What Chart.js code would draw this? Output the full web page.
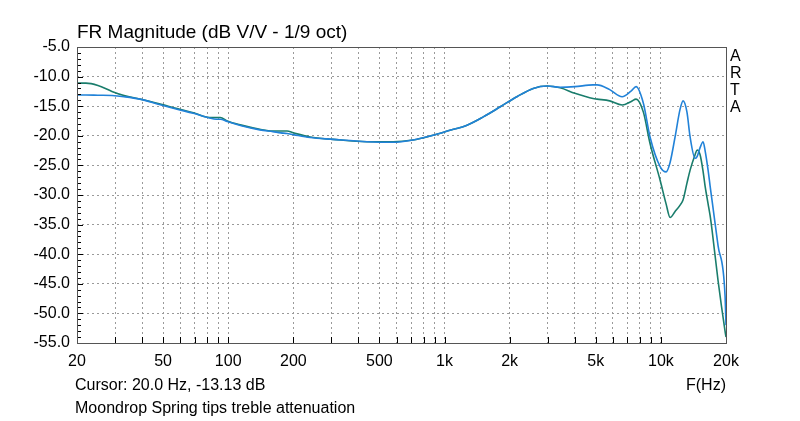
<!DOCTYPE html>
<html>
<head>
<meta charset="utf-8">
<script src="https://cdn.jsdelivr.net/npm/chart.js@4/dist/chart.umd.min.js"></script>
<style>
  body { margin: 0; background: #fff; }
  canvas { display: block; }
</style>
</head>
<body>
<canvas id="fr" width="800" height="421"></canvas>
<script>
const FONT = '"Liberation Sans", Arial, sans-serif';

// frequency points (Hz), shared by both traces
const freqs = [20, 22, 25, 29, 33, 39, 48, 58, 69, 82, 88, 92, 99, 115, 140, 161, 175, 187, 200, 239,
  305, 438, 578, 715, 885, 1030, 1270, 1510, 1810, 2160, 2570, 2980, 3420, 4000, 4860, 5070, 5800,
  6620, 7300, 7680, 8300, 8910, 9920, 10570, 11030, 11630, 12270, 12670, 13200, 13650, 14390, 14700,
  15180, 15670, 16010, 16530, 16890, 17250, 18370, 19800, 20000];

// blue trace (dB)
const blueDb = [-13.1, -13.1, -13.15, -13.2, -13.4, -13.8, -14.7, -15.5, -16.2, -17.0, -17.2, -17.2, -17.6,
  -18.3, -19.0, -19.3, -19.5, -19.6, -19.8, -20.3, -20.6, -21.0, -21.1, -20.7, -19.9, -19.2, -18.2, -16.8,
  -15.1, -13.4, -12.0, -11.6, -11.8, -11.7, -11.4, -11.4, -12.2, -13.4, -12.4, -11.7, -14.5, -20.2, -25.2,
  -26.1, -24.5, -20.2, -15.5, -14.1, -16.0, -20.2, -23.8, -23.5, -22.0, -21.0, -22.5, -25.8, -28.5, -31.0,
  -38.5, -47.0, -52.0];

// teal trace (dB)
const tealDb = [-11.1, -11.1, -11.5, -12.5, -13.2, -13.8, -14.6, -15.4, -16.1, -16.9, -16.9, -16.9, -17.5,
  -18.2, -18.9, -19.2, -19.2, -19.2, -19.5, -20.2, -20.6, -21.0, -21.0, -20.7, -19.9, -19.2, -18.2, -16.8,
  -15.1, -13.4, -12.0, -11.6, -11.9, -12.8, -13.7, -13.8, -14.1, -14.8, -14.2, -13.8, -16.0, -21.3, -27.5,
  -31.5, -33.8, -32.8, -31.7, -30.8, -28.0, -25.8, -23.2, -22.4, -23.2, -26.0, -28.5, -31.5, -33.5, -36.0,
  -44.4, -53.0, -54.0];

// x grid lines and which of them carry a label
const gridFreqs = [20, 30, 40, 50, 60, 70, 80, 90, 100, 200, 300, 400, 500, 600, 700, 800, 900,
  1000, 2000, 3000, 4000, 5000, 6000, 7000, 8000, 9000, 10000, 20000];
const labelFreqs = [20, 50, 100, 200, 500, 1000, 2000, 5000, 10000, 20000];

const toPoints = (ys) => freqs.map((f, i) => ({ x: f, y: ys[i] }));
const fmtHz = (v) => (v >= 1000 ? v / 1000 + 'k' : String(v));

const decorations = {
  id: 'artaDecor',
  afterDraw(c) {
    const { ctx, chartArea: a, scales } = c;
    ctx.save();
    // minor ticks on the left, every 1 dB
    ctx.strokeStyle = '#000';
    ctx.lineWidth = 1;
    ctx.beginPath();
    for (let v = -55; v <= -5; v++) {
      const y = Math.round(scales.y.getPixelForValue(v)) + 0.5;
      const len = v % 5 === 0 ? 6 : 4;
      ctx.moveTo(a.left, y);
      ctx.lineTo(a.left + len, y);
    }
    // ticks up from the bottom axis
    gridFreqs.forEach((f) => {
      const x = Math.round(scales.x.getPixelForValue(f)) + 0.5;
      ctx.moveTo(x, a.bottom);
      ctx.lineTo(x, a.bottom - 6);
    });
    ctx.stroke();
    // plot frame
    ctx.strokeStyle = '#555';
    ctx.strokeRect(a.left + 0.5, a.top + 0.5, a.right - a.left, a.bottom - a.top);

    ctx.fillStyle = '#000';
    ctx.textBaseline = 'middle';
    ctx.textAlign = 'left';
    ctx.font = '19px ' + FONT;
    ctx.fillText('FR Magnitude (dB V/V - 1/9 oct)', a.left, 33);
    ctx.font = '16px ' + FONT;
    ctx.fillText('Cursor: 20.0 Hz, -13.13 dB', 75, 386);
    ctx.fillText('Moondrop Spring tips treble attenuation', 75, 409);
    ctx.textAlign = 'right';
    ctx.fillText('F(Hz)', a.right, 386);
    ctx.textAlign = 'left';
    ['A', 'R', 'T', 'A'].forEach((ch, i) => ctx.fillText(ch, 730, 57 + i * 17));
    ctx.restore();
  },
};

new Chart(document.getElementById('fr'), {
  type: 'scatter',
  data: {
    datasets: [
      {
        label: 'blue',
        data: toPoints(blueDb),
        borderColor: '#2182d8',
        borderWidth: 1.6,
        showLine: true,
        pointRadius: 0,
        cubicInterpolationMode: 'monotone',
      },
      {
        label: 'teal',
        data: toPoints(tealDb),
        borderColor: '#1a7d6c',
        borderWidth: 1.6,
        showLine: true,
        pointRadius: 0,
        cubicInterpolationMode: 'monotone',
      },
    ],
  },
  options: {
    responsive: false,
    animation: false,
    layout: { padding: { top: 47, right: 74, bottom: 0, left: 0 } },
    plugins: { legend: { display: false }, tooltip: { enabled: false } },
    scales: {
      x: {
        type: 'logarithmic',
        min: 20,
        max: 20000,
        afterBuildTicks: (s) => { s.ticks = gridFreqs.map((v) => ({ value: v })); },
        afterFit: (s) => { s.height = 78; },
        ticks: {
          autoSkip: false,
          maxRotation: 0,
          padding: 9,
          color: '#000',
          font: { family: FONT, size: 16 },
          callback: (v) => (labelFreqs.includes(v) ? fmtHz(v) : ''),
        },
        grid: { color: '#9a9a9a', drawTicks: false },
        border: { display: false, dash: [2, 3] },
      },
      y: {
        min: -55,
        max: -5,
        afterFit: (s) => { s.width = 77; },
        ticks: {
          stepSize: 5,
          padding: 7,
          color: '#000',
          font: { family: FONT, size: 16 },
          callback: (v) => v.toFixed(1),
        },
        grid: { color: '#9a9a9a', drawTicks: false },
        border: { display: false, dash: [2, 3] },
      },
    },
  },
  plugins: [decorations],
});
</script>
</body>
</html>
